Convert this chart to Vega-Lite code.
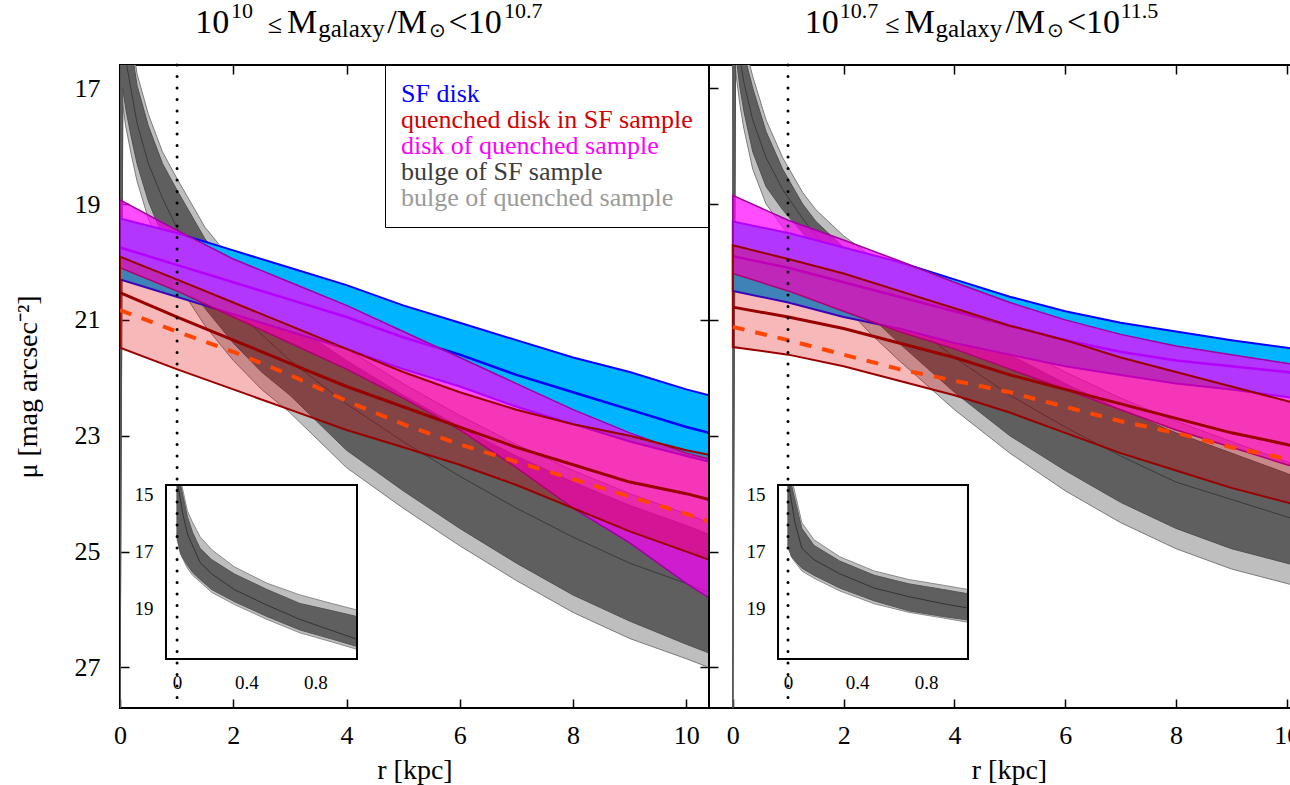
{
"$schema": "https://vega.github.io/schema/vega-lite/v6.json",
"padding": {"left": 13, "top": -1, "right": 0, "bottom": 0},
"spacing": 0,
"bounds": "flush",
"background": "white",
"config": {
 "view": {"stroke": "black", "strokeWidth": 2},
 "axis": {"domain": false, "grid": false, "ticks": true, "tickColor": "black", "tickWidth": 1.5, "tickSize": -9, "labelPadding": 29, "labelFont": "Liberation Serif", "labelFontSize": 26, "labelColor": "black", "labelFlush": false, "labelOverlap": false, "titleFont": "Liberation Serif", "titleFontSize": 28, "titleFontWeight": "normal", "titleColor": "black", "titlePadding": 8},
 "text": {"font": "Liberation Serif"}
},
"datasets": {
 "bands": [
  {"p":"L","s":"bulge of quenched sample","r":0,"lo":13.8,"hi":28.0},{"p":"L","s":"bulge of quenched sample","r":0.05,"lo":15.1,"hi":17.3},{"p":"L","s":"bulge of quenched sample","r":0.1,"lo":15.5,"hi":17.65},{"p":"L","s":"bulge of quenched sample","r":0.2,"lo":16.1,"hi":18.15},{"p":"L","s":"bulge of quenched sample","r":0.3,"lo":16.75,"hi":18.6},{"p":"L","s":"bulge of quenched sample","r":0.5,"lo":17.45,"hi":19.25},{"p":"L","s":"bulge of quenched sample","r":0.75,"lo":18.1,"hi":19.85},{"p":"L","s":"bulge of quenched sample","r":1,"lo":18.55,"hi":20.35},{"p":"L","s":"bulge of quenched sample","r":1.5,"lo":19.4,"hi":21.1},{"p":"L","s":"bulge of quenched sample","r":2,"lo":20.0,"hi":21.7},{"p":"L","s":"bulge of quenched sample","r":2.5,"lo":20.45,"hi":22.2},{"p":"L","s":"bulge of quenched sample","r":3,"lo":20.85,"hi":22.6},{"p":"L","s":"bulge of quenched sample","r":4,"lo":21.5,"hi":23.55},{"p":"L","s":"bulge of quenched sample","r":5,"lo":22.1,"hi":24.25},{"p":"L","s":"bulge of quenched sample","r":6,"lo":22.65,"hi":24.9},{"p":"L","s":"bulge of quenched sample","r":7,"lo":23.15,"hi":25.5},{"p":"L","s":"bulge of quenched sample","r":8,"lo":23.6,"hi":26.05},{"p":"L","s":"bulge of quenched sample","r":9,"lo":24.0,"hi":26.5},{"p":"L","s":"bulge of quenched sample","r":10,"lo":24.35,"hi":26.85},{"p":"L","s":"bulge of quenched sample","r":10.4,"lo":24.5,"hi":27.0},
  {"p":"L","s":"bulge of SF sample","r":0,"lo":14.0,"hi":27.9},{"p":"L","s":"bulge of SF sample","r":0.05,"lo":15.3,"hi":17.0},{"p":"L","s":"bulge of SF sample","r":0.1,"lo":15.7,"hi":17.35},{"p":"L","s":"bulge of SF sample","r":0.2,"lo":16.3,"hi":17.85},{"p":"L","s":"bulge of SF sample","r":0.3,"lo":16.95,"hi":18.3},{"p":"L","s":"bulge of SF sample","r":0.5,"lo":17.65,"hi":18.95},{"p":"L","s":"bulge of SF sample","r":0.75,"lo":18.3,"hi":19.55},{"p":"L","s":"bulge of SF sample","r":1,"lo":18.75,"hi":20.05},{"p":"L","s":"bulge of SF sample","r":1.5,"lo":19.6,"hi":20.8},{"p":"L","s":"bulge of SF sample","r":2,"lo":20.2,"hi":21.4},{"p":"L","s":"bulge of SF sample","r":2.5,"lo":20.65,"hi":21.9},{"p":"L","s":"bulge of SF sample","r":3,"lo":21.05,"hi":22.3},{"p":"L","s":"bulge of SF sample","r":4,"lo":21.7,"hi":23.25},{"p":"L","s":"bulge of SF sample","r":5,"lo":22.3,"hi":23.95},{"p":"L","s":"bulge of SF sample","r":6,"lo":22.85,"hi":24.6},{"p":"L","s":"bulge of SF sample","r":7,"lo":23.35,"hi":25.2},{"p":"L","s":"bulge of SF sample","r":8,"lo":23.8,"hi":25.75},{"p":"L","s":"bulge of SF sample","r":9,"lo":24.2,"hi":26.2},{"p":"L","s":"bulge of SF sample","r":10,"lo":24.55,"hi":26.6},{"p":"L","s":"bulge of SF sample","r":10.4,"lo":24.7,"hi":26.75},
  {"p":"L","s":"SF disk","r":0,"lo":19.25,"hi":20.3},{"p":"L","s":"SF disk","r":1,"lo":19.5,"hi":20.6},{"p":"L","s":"SF disk","r":2,"lo":19.8,"hi":20.9},{"p":"L","s":"SF disk","r":3,"lo":20.1,"hi":21.2},{"p":"L","s":"SF disk","r":4,"lo":20.4,"hi":21.5},{"p":"L","s":"SF disk","r":5,"lo":20.75,"hi":21.85},{"p":"L","s":"SF disk","r":6,"lo":21.05,"hi":22.15},{"p":"L","s":"SF disk","r":7,"lo":21.35,"hi":22.5},{"p":"L","s":"SF disk","r":8,"lo":21.65,"hi":22.8},{"p":"L","s":"SF disk","r":9,"lo":21.9,"hi":23.1},{"p":"L","s":"SF disk","r":10,"lo":22.2,"hi":23.35},{"p":"L","s":"SF disk","r":10.4,"lo":22.3,"hi":23.45},
  {"p":"L","s":"disk of quenched sample","r":0,"lo":18.93,"hi":20.1},{"p":"L","s":"disk of quenched sample","r":1,"lo":19.45,"hi":20.5},{"p":"L","s":"disk of quenched sample","r":2,"lo":19.95,"hi":20.95},{"p":"L","s":"disk of quenched sample","r":3,"lo":20.35,"hi":21.4},{"p":"L","s":"disk of quenched sample","r":4,"lo":20.75,"hi":21.85},{"p":"L","s":"disk of quenched sample","r":5,"lo":21.2,"hi":22.35},{"p":"L","s":"disk of quenched sample","r":6,"lo":21.65,"hi":22.9},{"p":"L","s":"disk of quenched sample","r":7,"lo":22.1,"hi":23.55},{"p":"L","s":"disk of quenched sample","r":8,"lo":22.55,"hi":24.25},{"p":"L","s":"disk of quenched sample","r":9,"lo":22.95,"hi":24.85},{"p":"L","s":"disk of quenched sample","r":10,"lo":23.3,"hi":25.55},{"p":"L","s":"disk of quenched sample","r":10.4,"lo":23.4,"hi":25.8},
  {"p":"L","s":"quenched disk in SF sample","r":0,"lo":19.91,"hi":21.48},{"p":"L","s":"quenched disk in SF sample","r":1,"lo":20.3,"hi":21.85},{"p":"L","s":"quenched disk in SF sample","r":2,"lo":20.7,"hi":22.2},{"p":"L","s":"quenched disk in SF sample","r":3,"lo":21.1,"hi":22.55},{"p":"L","s":"quenched disk in SF sample","r":4,"lo":21.5,"hi":22.9},{"p":"L","s":"quenched disk in SF sample","r":5,"lo":21.9,"hi":23.2},{"p":"L","s":"quenched disk in SF sample","r":6,"lo":22.25,"hi":23.5},{"p":"L","s":"quenched disk in SF sample","r":7,"lo":22.55,"hi":23.85},{"p":"L","s":"quenched disk in SF sample","r":8,"lo":22.8,"hi":24.25},{"p":"L","s":"quenched disk in SF sample","r":9,"lo":23.0,"hi":24.65},{"p":"L","s":"quenched disk in SF sample","r":10,"lo":23.25,"hi":25.0},{"p":"L","s":"quenched disk in SF sample","r":10.4,"lo":23.33,"hi":25.14},
  {"p":"R","s":"bulge of quenched sample","r":0,"lo":13.8,"hi":28.0},{"p":"R","s":"bulge of quenched sample","r":0.05,"lo":15.3,"hi":16.7},{"p":"R","s":"bulge of quenched sample","r":0.13,"lo":15.8,"hi":17.3},{"p":"R","s":"bulge of quenched sample","r":0.2,"lo":16.2,"hi":17.7},{"p":"R","s":"bulge of quenched sample","r":0.36,"lo":16.8,"hi":18.4},{"p":"R","s":"bulge of quenched sample","r":0.6,"lo":17.55,"hi":19.0},{"p":"R","s":"bulge of quenched sample","r":0.9,"lo":18.2,"hi":19.4},{"p":"R","s":"bulge of quenched sample","r":1.26,"lo":18.8,"hi":19.8},{"p":"R","s":"bulge of quenched sample","r":1.5,"lo":19.1,"hi":20.15},{"p":"R","s":"bulge of quenched sample","r":2,"lo":19.55,"hi":20.75},{"p":"R","s":"bulge of quenched sample","r":2.5,"lo":19.9,"hi":21.25},{"p":"R","s":"bulge of quenched sample","r":3,"lo":20.25,"hi":21.7},{"p":"R","s":"bulge of quenched sample","r":4,"lo":20.85,"hi":22.55},{"p":"R","s":"bulge of quenched sample","r":5,"lo":21.4,"hi":23.3},{"p":"R","s":"bulge of quenched sample","r":6,"lo":21.9,"hi":23.95},{"p":"R","s":"bulge of quenched sample","r":7,"lo":22.35,"hi":24.5},{"p":"R","s":"bulge of quenched sample","r":8,"lo":22.75,"hi":24.95},{"p":"R","s":"bulge of quenched sample","r":9,"lo":23.1,"hi":25.3},{"p":"R","s":"bulge of quenched sample","r":10,"lo":23.45,"hi":25.55},{"p":"R","s":"bulge of quenched sample","r":10.4,"lo":23.6,"hi":25.65},
  {"p":"R","s":"bulge of SF sample","r":0,"lo":14.0,"hi":27.9},{"p":"R","s":"bulge of SF sample","r":0.05,"lo":15.5,"hi":16.4},{"p":"R","s":"bulge of SF sample","r":0.13,"lo":16.0,"hi":17.0},{"p":"R","s":"bulge of SF sample","r":0.2,"lo":16.4,"hi":17.4},{"p":"R","s":"bulge of SF sample","r":0.36,"lo":17.0,"hi":18.1},{"p":"R","s":"bulge of SF sample","r":0.6,"lo":17.75,"hi":18.7},{"p":"R","s":"bulge of SF sample","r":0.9,"lo":18.4,"hi":19.1},{"p":"R","s":"bulge of SF sample","r":1.26,"lo":19.0,"hi":19.5},{"p":"R","s":"bulge of SF sample","r":1.5,"lo":19.3,"hi":19.85},{"p":"R","s":"bulge of SF sample","r":2,"lo":19.75,"hi":20.45},{"p":"R","s":"bulge of SF sample","r":2.5,"lo":20.1,"hi":20.95},{"p":"R","s":"bulge of SF sample","r":3,"lo":20.45,"hi":21.4},{"p":"R","s":"bulge of SF sample","r":4,"lo":21.05,"hi":22.25},{"p":"R","s":"bulge of SF sample","r":5,"lo":21.6,"hi":23.0},{"p":"R","s":"bulge of SF sample","r":6,"lo":22.1,"hi":23.6},{"p":"R","s":"bulge of SF sample","r":7,"lo":22.55,"hi":24.15},{"p":"R","s":"bulge of SF sample","r":8,"lo":22.95,"hi":24.6},{"p":"R","s":"bulge of SF sample","r":9,"lo":23.3,"hi":24.95},{"p":"R","s":"bulge of SF sample","r":10,"lo":23.65,"hi":25.2},{"p":"R","s":"bulge of SF sample","r":10.4,"lo":23.8,"hi":25.3},
  {"p":"R","s":"SF disk","r":0,"lo":19.3,"hi":20.5},{"p":"R","s":"SF disk","r":1,"lo":19.5,"hi":20.7},{"p":"R","s":"SF disk","r":2,"lo":19.75,"hi":20.95},{"p":"R","s":"SF disk","r":3,"lo":20.0,"hi":21.15},{"p":"R","s":"SF disk","r":4,"lo":20.3,"hi":21.4},{"p":"R","s":"SF disk","r":5,"lo":20.6,"hi":21.6},{"p":"R","s":"SF disk","r":6,"lo":20.85,"hi":21.8},{"p":"R","s":"SF disk","r":7,"lo":21.05,"hi":21.95},{"p":"R","s":"SF disk","r":8,"lo":21.2,"hi":22.1},{"p":"R","s":"SF disk","r":9,"lo":21.35,"hi":22.2},{"p":"R","s":"SF disk","r":10,"lo":21.48,"hi":22.33},{"p":"R","s":"SF disk","r":10.4,"lo":21.55,"hi":22.4},
  {"p":"R","s":"disk of quenched sample","r":0,"lo":18.85,"hi":20.2},{"p":"R","s":"disk of quenched sample","r":1,"lo":19.28,"hi":20.5},{"p":"R","s":"disk of quenched sample","r":2,"lo":19.62,"hi":20.85},{"p":"R","s":"disk of quenched sample","r":3,"lo":19.98,"hi":21.2},{"p":"R","s":"disk of quenched sample","r":4,"lo":20.35,"hi":21.5},{"p":"R","s":"disk of quenched sample","r":5,"lo":20.7,"hi":21.85},{"p":"R","s":"disk of quenched sample","r":6,"lo":21.0,"hi":22.2},{"p":"R","s":"disk of quenched sample","r":7,"lo":21.25,"hi":22.55},{"p":"R","s":"disk of quenched sample","r":8,"lo":21.45,"hi":22.9},{"p":"R","s":"disk of quenched sample","r":9,"lo":21.6,"hi":23.2},{"p":"R","s":"disk of quenched sample","r":10,"lo":21.75,"hi":23.5},{"p":"R","s":"disk of quenched sample","r":10.4,"lo":21.8,"hi":23.6},
  {"p":"R","s":"quenched disk in SF sample","r":0,"lo":19.71,"hi":21.47},{"p":"R","s":"quenched disk in SF sample","r":1,"lo":19.95,"hi":21.6},{"p":"R","s":"quenched disk in SF sample","r":2,"lo":20.2,"hi":21.8},{"p":"R","s":"quenched disk in SF sample","r":3,"lo":20.5,"hi":22.05},{"p":"R","s":"quenched disk in SF sample","r":4,"lo":20.8,"hi":22.3},{"p":"R","s":"quenched disk in SF sample","r":5,"lo":21.1,"hi":22.6},{"p":"R","s":"quenched disk in SF sample","r":6,"lo":21.35,"hi":22.95},{"p":"R","s":"quenched disk in SF sample","r":7,"lo":21.65,"hi":23.3},{"p":"R","s":"quenched disk in SF sample","r":8,"lo":21.9,"hi":23.6},{"p":"R","s":"quenched disk in SF sample","r":9,"lo":22.15,"hi":23.9},{"p":"R","s":"quenched disk in SF sample","r":10,"lo":22.4,"hi":24.15},{"p":"R","s":"quenched disk in SF sample","r":10.4,"lo":22.5,"hi":24.25}
 ],
 "lines": [
  {"p":"L","s":"sf","r":0,"mu":19.75},{"p":"L","s":"sf","r":1,"mu":20.05},{"p":"L","s":"sf","r":2,"mu":20.35},{"p":"L","s":"sf","r":3,"mu":20.65},{"p":"L","s":"sf","r":4,"mu":20.95},{"p":"L","s":"sf","r":5,"mu":21.3},{"p":"L","s":"sf","r":6,"mu":21.6},{"p":"L","s":"sf","r":7,"mu":21.95},{"p":"L","s":"sf","r":8,"mu":22.25},{"p":"L","s":"sf","r":9,"mu":22.55},{"p":"L","s":"sf","r":10,"mu":22.85},{"p":"L","s":"sf","r":10.4,"mu":22.95},
  {"p":"L","s":"qs","r":0,"mu":20.53},{"p":"L","s":"qs","r":1,"mu":20.95},{"p":"L","s":"qs","r":2,"mu":21.35},{"p":"L","s":"qs","r":3,"mu":21.75},{"p":"L","s":"qs","r":4,"mu":22.15},{"p":"L","s":"qs","r":5,"mu":22.5},{"p":"L","s":"qs","r":6,"mu":22.85},{"p":"L","s":"qs","r":7,"mu":23.2},{"p":"L","s":"qs","r":8,"mu":23.5},{"p":"L","s":"qs","r":9,"mu":23.8},{"p":"L","s":"qs","r":10,"mu":24.0},{"p":"L","s":"qs","r":10.4,"mu":24.1},
  {"p":"L","s":"or","r":0,"mu":20.83},{"p":"L","s":"or","r":1,"mu":21.2},{"p":"L","s":"or","r":2,"mu":21.55},{"p":"L","s":"or","r":3,"mu":21.95},{"p":"L","s":"or","r":4,"mu":22.4},{"p":"L","s":"or","r":5,"mu":22.8},{"p":"L","s":"or","r":6,"mu":23.15},{"p":"L","s":"or","r":7,"mu":23.45},{"p":"L","s":"or","r":8,"mu":23.75},{"p":"L","s":"or","r":9,"mu":24.05},{"p":"L","s":"or","r":10,"mu":24.35},{"p":"L","s":"or","r":10.4,"mu":24.48},
  {"p":"L","s":"bm","r":0.05,"mu":16.1},{"p":"L","s":"bm","r":0.1,"mu":16.5},{"p":"L","s":"bm","r":0.2,"mu":17.05},{"p":"L","s":"bm","r":0.3,"mu":17.6},{"p":"L","s":"bm","r":0.5,"mu":18.3},{"p":"L","s":"bm","r":0.75,"mu":18.9},{"p":"L","s":"bm","r":1,"mu":19.4},{"p":"L","s":"bm","r":1.5,"mu":20.2},{"p":"L","s":"bm","r":2,"mu":20.8},{"p":"L","s":"bm","r":3,"mu":21.7},{"p":"L","s":"bm","r":4,"mu":22.45},{"p":"L","s":"bm","r":5,"mu":23.1},{"p":"L","s":"bm","r":6,"mu":23.7},{"p":"L","s":"bm","r":7,"mu":24.25},{"p":"L","s":"bm","r":8,"mu":24.75},{"p":"L","s":"bm","r":9,"mu":25.2},{"p":"L","s":"bm","r":10,"mu":25.55},{"p":"L","s":"bm","r":10.4,"mu":25.7},
  {"p":"R","s":"sf","r":0,"mu":19.9},{"p":"R","s":"sf","r":1,"mu":20.1},{"p":"R","s":"sf","r":2,"mu":20.35},{"p":"R","s":"sf","r":3,"mu":20.6},{"p":"R","s":"sf","r":4,"mu":20.85},{"p":"R","s":"sf","r":5,"mu":21.1},{"p":"R","s":"sf","r":6,"mu":21.35},{"p":"R","s":"sf","r":7,"mu":21.55},{"p":"R","s":"sf","r":8,"mu":21.7},{"p":"R","s":"sf","r":9,"mu":21.8},{"p":"R","s":"sf","r":10,"mu":21.9},{"p":"R","s":"sf","r":10.4,"mu":21.95},
  {"p":"R","s":"qs","r":0,"mu":20.78},{"p":"R","s":"qs","r":1,"mu":20.95},{"p":"R","s":"qs","r":2,"mu":21.15},{"p":"R","s":"qs","r":3,"mu":21.4},{"p":"R","s":"qs","r":4,"mu":21.65},{"p":"R","s":"qs","r":5,"mu":21.95},{"p":"R","s":"qs","r":6,"mu":22.2},{"p":"R","s":"qs","r":7,"mu":22.45},{"p":"R","s":"qs","r":8,"mu":22.7},{"p":"R","s":"qs","r":9,"mu":22.95},{"p":"R","s":"qs","r":10,"mu":23.15},{"p":"R","s":"qs","r":10.4,"mu":23.25},
  {"p":"R","s":"or","r":0,"mu":21.12},{"p":"R","s":"or","r":1,"mu":21.35},{"p":"R","s":"or","r":2,"mu":21.6},{"p":"R","s":"or","r":3,"mu":21.85},{"p":"R","s":"or","r":4,"mu":22.05},{"p":"R","s":"or","r":5,"mu":22.25},{"p":"R","s":"or","r":6,"mu":22.5},{"p":"R","s":"or","r":7,"mu":22.75},{"p":"R","s":"or","r":8,"mu":22.95},{"p":"R","s":"or","r":9,"mu":23.2},{"p":"R","s":"or","r":10,"mu":23.4},{"p":"R","s":"or","r":10.4,"mu":23.5},
  {"p":"R","s":"bm","r":0.05,"mu":15.95},{"p":"R","s":"bm","r":0.13,"mu":16.5},{"p":"R","s":"bm","r":0.2,"mu":16.9},{"p":"R","s":"bm","r":0.36,"mu":17.55},{"p":"R","s":"bm","r":0.6,"mu":18.2},{"p":"R","s":"bm","r":0.9,"mu":18.75},{"p":"R","s":"bm","r":1.26,"mu":19.25},{"p":"R","s":"bm","r":1.5,"mu":19.55},{"p":"R","s":"bm","r":2,"mu":20.1},{"p":"R","s":"bm","r":3,"mu":20.9},{"p":"R","s":"bm","r":4,"mu":21.65},{"p":"R","s":"bm","r":5,"mu":22.3},{"p":"R","s":"bm","r":6,"mu":22.85},{"p":"R","s":"bm","r":7,"mu":23.35},{"p":"R","s":"bm","r":8,"mu":23.8},{"p":"R","s":"bm","r":9,"mu":24.1},{"p":"R","s":"bm","r":10,"mu":24.4},{"p":"R","s":"bm","r":10.4,"mu":24.5}
 ],
 "ibands": [
  {"p":"L","s":"q","r":0,"lo":14.68,"hi":16.6},{"p":"L","s":"q","r":0.027,"lo":14.68,"hi":17.2},{"p":"L","s":"q","r":0.06,"lo":15.6,"hi":17.6},{"p":"L","s":"q","r":0.09,"lo":16.0,"hi":17.85},{"p":"L","s":"q","r":0.133,"lo":16.5,"hi":18.08},{"p":"L","s":"q","r":0.2,"lo":16.95,"hi":18.45},{"p":"L","s":"q","r":0.33,"lo":17.55,"hi":18.87},{"p":"L","s":"q","r":0.52,"lo":18.13,"hi":19.4},{"p":"L","s":"q","r":0.71,"lo":18.54,"hi":19.87},{"p":"L","s":"q","r":0.9,"lo":18.85,"hi":20.2},{"p":"L","s":"q","r":1.04,"lo":19.07,"hi":20.45},
  {"p":"L","s":"b","r":0,"lo":14.68,"hi":16.5},{"p":"L","s":"b","r":0.02,"lo":14.68,"hi":17.1},{"p":"L","s":"b","r":0.06,"lo":15.8,"hi":17.5},{"p":"L","s":"b","r":0.09,"lo":16.35,"hi":17.75},{"p":"L","s":"b","r":0.133,"lo":16.9,"hi":18.0},{"p":"L","s":"b","r":0.2,"lo":17.3,"hi":18.35},{"p":"L","s":"b","r":0.33,"lo":17.8,"hi":18.77},{"p":"L","s":"b","r":0.52,"lo":18.35,"hi":19.3},{"p":"L","s":"b","r":0.71,"lo":18.84,"hi":19.77},{"p":"L","s":"b","r":0.9,"lo":19.1,"hi":20.1},{"p":"L","s":"b","r":1.04,"lo":19.3,"hi":20.35},
  {"p":"R","s":"q","r":0,"lo":14.68,"hi":16.9},{"p":"R","s":"q","r":0.03,"lo":14.68,"hi":17.3},{"p":"R","s":"q","r":0.08,"lo":16.0,"hi":17.7},{"p":"R","s":"q","r":0.15,"lo":16.6,"hi":17.95},{"p":"R","s":"q","r":0.3,"lo":17.2,"hi":18.4},{"p":"R","s":"q","r":0.5,"lo":17.7,"hi":18.85},{"p":"R","s":"q","r":0.7,"lo":18.0,"hi":19.15},{"p":"R","s":"q","r":0.9,"lo":18.2,"hi":19.35},{"p":"R","s":"q","r":1.043,"lo":18.35,"hi":19.5},
  {"p":"R","s":"b","r":0,"lo":14.68,"hi":16.8},{"p":"R","s":"b","r":0.02,"lo":14.68,"hi":17.2},{"p":"R","s":"b","r":0.08,"lo":16.2,"hi":17.6},{"p":"R","s":"b","r":0.15,"lo":16.8,"hi":17.85},{"p":"R","s":"b","r":0.3,"lo":17.35,"hi":18.3},{"p":"R","s":"b","r":0.5,"lo":17.85,"hi":18.75},{"p":"R","s":"b","r":0.7,"lo":18.15,"hi":19.1},{"p":"R","s":"b","r":0.9,"lo":18.35,"hi":19.3},{"p":"R","s":"b","r":1.043,"lo":18.5,"hi":19.42}
 ],
 "ilines": [
  {"p":"L","r":0.005,"mu":14.68},{"p":"L","r":0.03,"mu":15.6},{"p":"L","r":0.06,"mu":16.4},{"p":"L","r":0.133,"mu":17.4},{"p":"L","r":0.2,"mu":17.8},{"p":"L","r":0.33,"mu":18.35},{"p":"L","r":0.52,"mu":18.9},{"p":"L","r":0.71,"mu":19.4},{"p":"L","r":0.9,"mu":19.8},{"p":"L","r":1.04,"mu":20.1},
  {"p":"R","r":0.005,"mu":14.68},{"p":"R","r":0.04,"mu":16.0},{"p":"R","r":0.08,"mu":16.9},{"p":"R","r":0.15,"mu":17.3},{"p":"R","r":0.3,"mu":17.8},{"p":"R","r":0.5,"mu":18.3},{"p":"R","r":0.7,"mu":18.6},{"p":"R","r":0.9,"mu":18.85},{"p":"R","r":1.043,"mu":19.0}
 ]
},
"hconcat": [
 {
  "width": 589, "height": 643,
  "layer": [
   {"layer": [
    {"data":{"name":"bands"},"transform":[{"filter":"datum.p=='L' && datum.s=='bulge of quenched sample'"}],
     "mark":{"type":"area","stroke":"#7a7a7a","strokeWidth":1,"clip":true},
     "encoding":{"x":{"field":"r","type":"quantitative","scale":{"domain":[0,10.4],"nice":false,"zero":false},"axis":{"orient":"bottom","values":[0,2,4,6,8,10],"labelPadding":23,"title":"r [kpc]"}},
      "y":{"field":"lo","type":"quantitative","scale":{"domain":[16.6,27.7],"reverse":true,"nice":false,"zero":false},"axis":{"orient":"left","values":[17,19,21,23,25,27],"title":"μ [mag arcsec⁻²]","titlePadding":32}},
      "y2":{"field":"hi"},
      "color":{"field":"s","type":"nominal","scale":{"domain":["SF disk","quenched disk in SF sample","disk of quenched sample","bulge of SF sample","bulge of quenched sample"],"range":["#00b4ff","#e00000","#ff00ff","#5f5f5f","#bebebe"]},
       "legend":{"title":null,"orient":"top-right","offset":0,"padding":16,"strokeColor":"black","fillColor":"white","symbolSize":0,"symbolOpacity":0,"symbolStrokeWidth":0,"labelOffset":-26,"labelFont":"Liberation Serif","labelFontSize":26,"labelLimit":500,"rowPadding":-0.5,
        "labelColor":{"expr":"datum.label=='SF disk'?'#0000ff':datum.label=='quenched disk in SF sample'?'#d40000':datum.label=='disk of quenched sample'?'#ff00ff':datum.label=='bulge of SF sample'?'#3c3c3c':'#9a9a9a'"}}}}},
    {"data":{"name":"bands"},"transform":[{"filter":"datum.p=='L' && datum.s=='bulge of SF sample'"}],
     "mark":{"type":"area","stroke":"#505050","strokeWidth":1,"clip":true},
     "encoding":{"x":{"field":"r","type":"quantitative","scale":{"domain":[0,10.4],"nice":false,"zero":false},"axis":{"orient":"top","values":[0,2,4,6,8,10],"labels":false,"title":null}},
      "y":{"field":"lo","type":"quantitative","scale":{"domain":[16.6,27.7],"reverse":true,"nice":false,"zero":false},"axis":{"orient":"right","values":[17,19,21,23,25,27],"labels":false,"title":null}},
      "y2":{"field":"hi"},"color":{"field":"s","type":"nominal"}}},
    {"data":{"name":"lines"},"transform":[{"filter":"datum.p=='L' && datum.s=='bm'"}],
     "mark":{"type":"line","stroke":"#3a3a3a","strokeWidth":1,"clip":true},
     "encoding":{"x":{"field":"r","type":"quantitative","axis":null},"y":{"field":"mu","type":"quantitative","axis":null}}},
    {"data":{"name":"bands"},"transform":[{"filter":"datum.p=='L' && datum.s=='SF disk'"}],
     "mark":{"type":"area","stroke":"#0000ff","strokeWidth":2,"clip":true},
     "encoding":{"x":{"field":"r","type":"quantitative","axis":null},"y":{"field":"lo","type":"quantitative","axis":null},"y2":{"field":"hi"},"color":{"field":"s","type":"nominal"}}},
    {"data":{"name":"lines"},"transform":[{"filter":"datum.p=='L' && datum.s=='sf'"}],
     "mark":{"type":"line","stroke":"#0000ff","strokeWidth":2.5,"clip":true},
     "encoding":{"x":{"field":"r","type":"quantitative","axis":null},"y":{"field":"mu","type":"quantitative","axis":null}}},
    {"data":{"name":"bands"},"transform":[{"filter":"datum.p=='L' && datum.s=='disk of quenched sample'"}],
     "mark":{"type":"area","fillOpacity":0.7,"stroke":"#a000a0","strokeWidth":1.5,"clip":true},
     "encoding":{"x":{"field":"r","type":"quantitative","axis":null},"y":{"field":"lo","type":"quantitative","axis":null},"y2":{"field":"hi"},"color":{"field":"s","type":"nominal"}}},
    {"data":{"name":"bands"},"transform":[{"filter":"datum.p=='L' && datum.s=='quenched disk in SF sample'"}],
     "mark":{"type":"area","fillOpacity":0.28,"stroke":"#990000","strokeWidth":2,"clip":true},
     "encoding":{"x":{"field":"r","type":"quantitative","axis":null},"y":{"field":"lo","type":"quantitative","axis":null},"y2":{"field":"hi"},"color":{"field":"s","type":"nominal"}}},
    {"data":{"name":"lines"},"transform":[{"filter":"datum.p=='L' && datum.s=='qs'"}],
     "mark":{"type":"line","stroke":"#990000","strokeWidth":3,"clip":true},
     "encoding":{"x":{"field":"r","type":"quantitative","axis":null},"y":{"field":"mu","type":"quantitative","axis":null}}},
    {"data":{"name":"lines"},"transform":[{"filter":"datum.p=='L' && datum.s=='or'"}],
     "mark":{"type":"line","stroke":"#ff4500","strokeWidth":4,"strokeDash":[12,11],"clip":true},
     "encoding":{"x":{"field":"r","type":"quantitative","axis":null},"y":{"field":"mu","type":"quantitative","axis":null}}},
    {"data":{"values":[{}]},"mark":{"type":"text","text":"10","align":"left","baseline":"alphabetic","fontSize":34,"dy":-32},"encoding":{"x":{"datum":1.33,"type":"quantitative","axis":null},"y":{"datum":16.6,"type":"quantitative","axis":null}}},
    {"data":{"values":[{}]},"mark":{"type":"text","text":"10","align":"left","baseline":"alphabetic","fontSize":22,"dy":-47},"encoding":{"x":{"datum":1.96,"type":"quantitative","axis":null},"y":{"datum":16.6,"type":"quantitative","axis":null}}},
    {"data":{"values":[{}]},"mark":{"type":"text","text":"≤","align":"left","baseline":"alphabetic","fontSize":26,"dy":-32},"encoding":{"x":{"datum":2.61,"type":"quantitative","axis":null},"y":{"datum":16.6,"type":"quantitative","axis":null}}},
    {"data":{"values":[{}]},"mark":{"type":"text","text":"M","align":"left","baseline":"alphabetic","fontSize":34,"dy":-32},"encoding":{"x":{"datum":2.95,"type":"quantitative","axis":null},"y":{"datum":16.6,"type":"quantitative","axis":null}}},
    {"data":{"values":[{}]},"mark":{"type":"text","text":"galaxy","align":"left","baseline":"alphabetic","fontSize":25,"dy":-28},"encoding":{"x":{"datum":3.5,"type":"quantitative","axis":null},"y":{"datum":16.6,"type":"quantitative","axis":null}}},
    {"data":{"values":[{}]},"mark":{"type":"text","text":"/M","align":"left","baseline":"alphabetic","fontSize":34,"dy":-32},"encoding":{"x":{"datum":4.72,"type":"quantitative","axis":null},"y":{"datum":16.6,"type":"quantitative","axis":null}}},
    {"data":{"values":[{}]},"mark":{"type":"text","text":"⊙","align":"left","baseline":"alphabetic","fontSize":20,"dy":-28},"encoding":{"x":{"datum":5.45,"type":"quantitative","axis":null},"y":{"datum":16.6,"type":"quantitative","axis":null}}},
    {"data":{"values":[{}]},"mark":{"type":"text","text":"<10","align":"left","baseline":"alphabetic","fontSize":34,"dy":-32},"encoding":{"x":{"datum":5.8,"type":"quantitative","axis":null},"y":{"datum":16.6,"type":"quantitative","axis":null}}},
    {"data":{"values":[{}]},"mark":{"type":"text","text":"10.7","align":"left","baseline":"alphabetic","fontSize":22,"dy":-47},"encoding":{"x":{"datum":6.78,"type":"quantitative","axis":null},"y":{"datum":16.6,"type":"quantitative","axis":null}}}
   ]},
   {"layer": [
    {"data":{"values":[{}]},"mark":{"type":"rect","fill":"white"},
     "encoding":{"x":{"datum":-0.064,"type":"quantitative","scale":{"domain":[-0.064,1.04],"range":[46,237],"nice":false,"zero":false},"axis":{"orient":"bottom","offset":-49,"values":[0,0.4,0.8,1],"labelExpr":"datum.value==0?'0':datum.value==1?'':toString(datum.value)","labelFontSize":19,"tickSize":-5,"labelPadding":19,"title":null}},
      "x2":{"datum":1.04},
      "y":{"datum":14.68,"type":"quantitative","scale":{"domain":[14.68,20.79],"range":[420,594],"nice":false,"zero":false},"axis":{"orient":"left","offset":-46,"values":[15,17,19],"labelFontSize":19,"tickSize":-5,"labelPadding":18,"title":null}},
      "y2":{"datum":20.79}}},
    {"data":{"name":"ibands"},"transform":[{"filter":"datum.p=='L' && datum.s=='q'"}],
     "mark":{"type":"area","fill":"#bebebe","stroke":"#8a8a8a","strokeWidth":1},
     "encoding":{"x":{"field":"r","type":"quantitative","axis":{"orient":"top","offset":-420,"values":[0,0.4,0.8,1],"labels":false,"tickSize":-5,"title":null}},
      "y":{"field":"lo","type":"quantitative","axis":{"orient":"right","offset":-352,"values":[15,17,19],"labels":false,"tickSize":-5,"title":null}},"y2":{"field":"hi"}}},
    {"data":{"name":"ibands"},"transform":[{"filter":"datum.p=='L' && datum.s=='b'"}],
     "mark":{"type":"area","fill":"#5f5f5f","stroke":"#555555","strokeWidth":1},
     "encoding":{"x":{"field":"r","type":"quantitative","axis":null},"y":{"field":"lo","type":"quantitative","axis":null},"y2":{"field":"hi"}}},
    {"data":{"name":"ilines"},"transform":[{"filter":"datum.p=='L'"}],
     "mark":{"type":"line","stroke":"#333333","strokeWidth":1},
     "encoding":{"x":{"field":"r","type":"quantitative","axis":null},"y":{"field":"mu","type":"quantitative","axis":null}}},
    {"data":{"values":[{}]},"mark":{"type":"rect","fillOpacity":0,"stroke":"black","strokeWidth":2},
     "encoding":{"x":{"datum":-0.064,"type":"quantitative","axis":null},"x2":{"datum":1.04},"y":{"datum":14.68,"type":"quantitative","axis":null},"y2":{"datum":20.79}}},
    {"data":{"values":[{}]},"mark":{"type":"rule","stroke":"black","strokeWidth":3,"strokeDash":[0.1,11.4],"strokeCap":"round"},
     "encoding":{"x":{"datum":0,"type":"quantitative","axis":null}}}
   ]}
  ],
  "resolve": {"scale": {"x": "independent", "y": "independent"}}
 },
 {
  "width": 600, "height": 643,
  "layer": [
   {"layer": [
    {"data":{"name":"bands"},"transform":[{"filter":"datum.p=='R' && datum.s=='bulge of quenched sample'"}],
     "mark":{"type":"area","stroke":"#7a7a7a","strokeWidth":1,"clip":true},
     "encoding":{"x":{"field":"r","type":"quantitative","scale":{"domain":[-0.43,10.4],"nice":false,"zero":false},"axis":{"orient":"bottom","values":[0,2,4,6,8,10],"labelPadding":23,"title":"r [kpc]"}},
      "y":{"field":"lo","type":"quantitative","scale":{"domain":[16.6,27.7],"reverse":true,"nice":false,"zero":false},"axis":{"orient":"left","values":[17,19,21,23,25,27],"labels":false,"title":null}},
      "y2":{"field":"hi"},
      "color":{"field":"s","type":"nominal","scale":{"domain":["SF disk","quenched disk in SF sample","disk of quenched sample","bulge of SF sample","bulge of quenched sample"],"range":["#00b4ff","#e00000","#ff00ff","#5f5f5f","#bebebe"]},"legend":null}}},
    {"data":{"name":"bands"},"transform":[{"filter":"datum.p=='R' && datum.s=='bulge of SF sample'"}],
     "mark":{"type":"area","stroke":"#505050","strokeWidth":1,"clip":true},
     "encoding":{"x":{"field":"r","type":"quantitative","axis":{"orient":"top","values":[0,2,4,6,8,10],"labels":false,"title":null}},
      "y":{"field":"lo","type":"quantitative","axis":{"orient":"right","values":[17,19,21,23,25,27],"labels":false,"title":null}},
      "y2":{"field":"hi"},"color":{"field":"s","type":"nominal","legend":null}}},
    {"data":{"name":"lines"},"transform":[{"filter":"datum.p=='R' && datum.s=='bm'"}],
     "mark":{"type":"line","stroke":"#3a3a3a","strokeWidth":1,"clip":true},
     "encoding":{"x":{"field":"r","type":"quantitative","axis":null},"y":{"field":"mu","type":"quantitative","axis":null}}},
    {"data":{"name":"bands"},"transform":[{"filter":"datum.p=='R' && datum.s=='SF disk'"}],
     "mark":{"type":"area","stroke":"#0000ff","strokeWidth":2,"clip":true},
     "encoding":{"x":{"field":"r","type":"quantitative","axis":null},"y":{"field":"lo","type":"quantitative","axis":null},"y2":{"field":"hi"},"color":{"field":"s","type":"nominal","legend":null}}},
    {"data":{"name":"lines"},"transform":[{"filter":"datum.p=='R' && datum.s=='sf'"}],
     "mark":{"type":"line","stroke":"#0000ff","strokeWidth":2.5,"clip":true},
     "encoding":{"x":{"field":"r","type":"quantitative","axis":null},"y":{"field":"mu","type":"quantitative","axis":null}}},
    {"data":{"name":"bands"},"transform":[{"filter":"datum.p=='R' && datum.s=='disk of quenched sample'"}],
     "mark":{"type":"area","fillOpacity":0.7,"stroke":"#a000a0","strokeWidth":1.5,"clip":true},
     "encoding":{"x":{"field":"r","type":"quantitative","axis":null},"y":{"field":"lo","type":"quantitative","axis":null},"y2":{"field":"hi"},"color":{"field":"s","type":"nominal","legend":null}}},
    {"data":{"name":"bands"},"transform":[{"filter":"datum.p=='R' && datum.s=='quenched disk in SF sample'"}],
     "mark":{"type":"area","fillOpacity":0.28,"stroke":"#990000","strokeWidth":2,"clip":true},
     "encoding":{"x":{"field":"r","type":"quantitative","axis":null},"y":{"field":"lo","type":"quantitative","axis":null},"y2":{"field":"hi"},"color":{"field":"s","type":"nominal","legend":null}}},
    {"data":{"name":"lines"},"transform":[{"filter":"datum.p=='R' && datum.s=='qs'"}],
     "mark":{"type":"line","stroke":"#990000","strokeWidth":3,"clip":true},
     "encoding":{"x":{"field":"r","type":"quantitative","axis":null},"y":{"field":"mu","type":"quantitative","axis":null}}},
    {"data":{"name":"lines"},"transform":[{"filter":"datum.p=='R' && datum.s=='or'"}],
     "mark":{"type":"line","stroke":"#ff4500","strokeWidth":4,"strokeDash":[12,11],"clip":true},
     "encoding":{"x":{"field":"r","type":"quantitative","axis":null},"y":{"field":"mu","type":"quantitative","axis":null}}},
    {"data":{"values":[{}]},"mark":{"type":"text","text":"10","align":"left","baseline":"alphabetic","fontSize":34,"dy":-32},"encoding":{"x":{"datum":1.3,"type":"quantitative","axis":null},"y":{"datum":16.6,"type":"quantitative","axis":null}}},
    {"data":{"values":[{}]},"mark":{"type":"text","text":"10.7","align":"left","baseline":"alphabetic","fontSize":22,"dy":-47},"encoding":{"x":{"datum":1.93,"type":"quantitative","axis":null},"y":{"datum":16.6,"type":"quantitative","axis":null}}},
    {"data":{"values":[{}]},"mark":{"type":"text","text":"≤","align":"left","baseline":"alphabetic","fontSize":26,"dy":-32},"encoding":{"x":{"datum":2.75,"type":"quantitative","axis":null},"y":{"datum":16.6,"type":"quantitative","axis":null}}},
    {"data":{"values":[{}]},"mark":{"type":"text","text":"M","align":"left","baseline":"alphabetic","fontSize":34,"dy":-32},"encoding":{"x":{"datum":3.1,"type":"quantitative","axis":null},"y":{"datum":16.6,"type":"quantitative","axis":null}}},
    {"data":{"values":[{}]},"mark":{"type":"text","text":"galaxy","align":"left","baseline":"alphabetic","fontSize":25,"dy":-28},"encoding":{"x":{"datum":3.66,"type":"quantitative","axis":null},"y":{"datum":16.6,"type":"quantitative","axis":null}}},
    {"data":{"values":[{}]},"mark":{"type":"text","text":"/M","align":"left","baseline":"alphabetic","fontSize":34,"dy":-32},"encoding":{"x":{"datum":4.92,"type":"quantitative","axis":null},"y":{"datum":16.6,"type":"quantitative","axis":null}}},
    {"data":{"values":[{}]},"mark":{"type":"text","text":"⊙","align":"left","baseline":"alphabetic","fontSize":20,"dy":-28},"encoding":{"x":{"datum":5.67,"type":"quantitative","axis":null},"y":{"datum":16.6,"type":"quantitative","axis":null}}},
    {"data":{"values":[{}]},"mark":{"type":"text","text":"<10","align":"left","baseline":"alphabetic","fontSize":34,"dy":-32},"encoding":{"x":{"datum":6.03,"type":"quantitative","axis":null},"y":{"datum":16.6,"type":"quantitative","axis":null}}},
    {"data":{"values":[{}]},"mark":{"type":"text","text":"11.5","align":"left","baseline":"alphabetic","fontSize":22,"dy":-47},"encoding":{"x":{"datum":7.0,"type":"quantitative","axis":null},"y":{"datum":16.6,"type":"quantitative","axis":null}}}
   ]},
   {"layer": [
    {"data":{"values":[{}]},"mark":{"type":"rect","fill":"white"},
     "encoding":{"x":{"datum":-0.058,"type":"quantitative","scale":{"domain":[-0.058,1.043],"range":[69,259],"nice":false,"zero":false},"axis":{"orient":"bottom","offset":-49,"values":[0,0.4,0.8,1],"labelExpr":"datum.value==0?'0':datum.value==1?'':toString(datum.value)","labelFontSize":19,"tickSize":-5,"labelPadding":19,"title":null}},
      "x2":{"datum":1.043},
      "y":{"datum":14.68,"type":"quantitative","scale":{"domain":[14.68,20.79],"range":[420,594],"nice":false,"zero":false},"axis":{"orient":"left","offset":-69,"values":[15,17,19],"labelFontSize":19,"tickSize":-5,"labelPadding":18,"title":null}},
      "y2":{"datum":20.79}}},
    {"data":{"name":"ibands"},"transform":[{"filter":"datum.p=='R' && datum.s=='q'"}],
     "mark":{"type":"area","fill":"#bebebe","stroke":"#8a8a8a","strokeWidth":1},
     "encoding":{"x":{"field":"r","type":"quantitative","axis":{"orient":"top","offset":-420,"values":[0,0.4,0.8,1],"labels":false,"tickSize":-5,"title":null}},
      "y":{"field":"lo","type":"quantitative","axis":{"orient":"right","offset":-341,"values":[15,17,19],"labels":false,"tickSize":-5,"title":null}},"y2":{"field":"hi"}}},
    {"data":{"name":"ibands"},"transform":[{"filter":"datum.p=='R' && datum.s=='b'"}],
     "mark":{"type":"area","fill":"#5f5f5f","stroke":"#555555","strokeWidth":1},
     "encoding":{"x":{"field":"r","type":"quantitative","axis":null},"y":{"field":"lo","type":"quantitative","axis":null},"y2":{"field":"hi"}}},
    {"data":{"name":"ilines"},"transform":[{"filter":"datum.p=='R'"}],
     "mark":{"type":"line","stroke":"#333333","strokeWidth":1},
     "encoding":{"x":{"field":"r","type":"quantitative","axis":null},"y":{"field":"mu","type":"quantitative","axis":null}}},
    {"data":{"values":[{}]},"mark":{"type":"rect","fillOpacity":0,"stroke":"black","strokeWidth":2},
     "encoding":{"x":{"datum":-0.058,"type":"quantitative","axis":null},"x2":{"datum":1.043},"y":{"datum":14.68,"type":"quantitative","axis":null},"y2":{"datum":20.79}}},
    {"data":{"values":[{}]},"mark":{"type":"rule","stroke":"black","strokeWidth":3,"strokeDash":[0.1,11.4],"strokeCap":"round"},
     "encoding":{"x":{"datum":0,"type":"quantitative","axis":null}}}
   ]}
  ],
  "resolve": {"scale": {"x": "independent", "y": "independent"}}
 }
],
"resolve": {"scale": {"color": "independent"}, "legend": {"color": "independent"}}
}
